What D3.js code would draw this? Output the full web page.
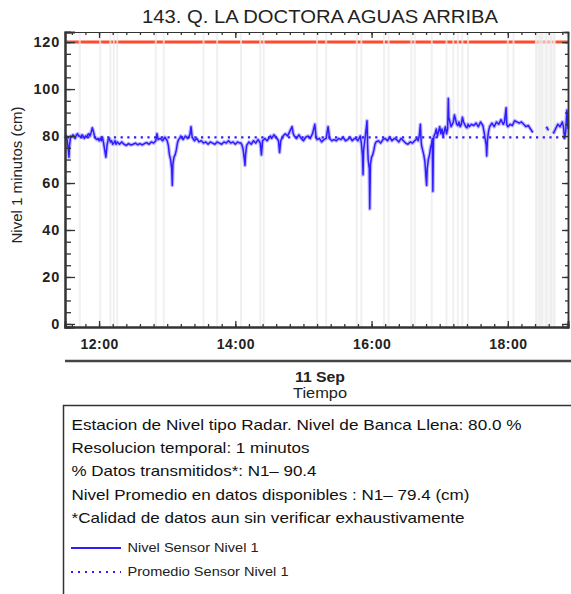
<!DOCTYPE html>
<html>
<head>
<meta charset="utf-8">
<script src="https://cdn.jsdelivr.net/npm/d3@7"></script>
<style>
  html, body { margin: 0; padding: 0; background: #fff; }
  svg { display: block; font-family: "Liberation Sans", Arial, Helvetica, sans-serif; }
</style>
</head>
<body>
<svg id="chart" width="571" height="594"></svg>
<script>
// ---------- DATA ----------
const chartTitle = "143. Q. LA DOCTORA AGUAS ARRIBA";
const yLabel = "Nivel 1 minutos (cm)";
const dateLabel = "11 Sep";
const xLabel = "Tiempo";
const yTicks = [0, 20, 40, 60, 80, 100, 120];
const bankFullLevel = 120;      // red line
const meanLevel = 79.4;         // dotted average
// minutes after 11:30 on 11 Sep
const levelMinutes = [
  0,1,2,3,3.5,4,5,6,7,8,9,10,11,12,
  13,14,15,16,17,18,19,20,21,22,23,24,25,26,27,28,29,30,
  31,32,33,34,35,36,37,38,39,40,41,42,43,44,45,46,47,48,49,50,
  52,54,56,58,60,62,64,66,68,70,72,74,76,78,80,
  81,82,84,86,88,90,
  91,92,93,94,94.5,95,96,97,98,99,100,
  101,102,104,106,108,110,111,112,114,116,118,120,
  122,124,126,128,130,132,134,136,138,140,142,144,146,148,150,152,154,
  155,156,157,158,158.5,159,160,162,164,166,168,170,172,173,174,176,178,180,
  181,182,184,186,188,189,190,192,194,196,198,200,201,202,204,206,208,210,212,214,216,218,220,221,
  222,224,226,228,230,231.7,233,235,237,239,241,243,245,247,249,251,253,255,
  256,258,260,261,262,262.5,263,264,265,266,266.5,267,268,268.4,269,270,271,272,273,274,276,278,280,
  282,284,286,288,290,292,294,296,298,300,302,304,306,308,310,
  311,312,313,313.5,314,315,316,317,318,318.5,319,320,321,322,323,323.5,324,324.5,325,
  326,327,328,329,330,331,332,333,334,335,336,337,
  337.6,338,339,340,341,342,343,344,345,346,347,348,349,350,351,352,353,354,355,356,358,
  360,362,364,366,368,369,370,371,371.4,372,373,374,376,378,380,382,384,386,387,388.5,389,
  390,392,394,396,398,400,402,404,406,408,410,412,413,
  424,425,426,427,430,432,434,436,438,439,440,441,442,443
];
const levelValues = [
  79,80,78,74,71,76,80,79.5,80.5,80,79,80.5,81,80,
  80,79.5,80.5,80,79,80,79.5,80.5,81,80,81.5,83.5,82,80,79,78.5,79,78,
  79,78,79.5,77,74,71,76,78.5,79,77.5,78,76.5,77,78,76.5,77.5,77,76.5,77,77.5,
  76.5,76,76.8,76.2,76.5,77,76.3,76.8,76.2,76.8,77.2,76.5,77.5,77,78,
  81,78.5,79,78,79.5,78,
  76,72,70,66,59,68,71,72,74,77,78.5,
  79,80,78.5,80,79,80.5,84,79.5,78,79,77.5,78,
  77,77.5,76.5,77.5,77,76.5,77.5,77,76.5,77.5,77,78,77,77.5,76.5,77.5,77,
  77,76,74,70,67.5,72,76,77.5,76.5,78,77,78.5,77,72,78,79,78,79.5,
  80,79,80.5,79.5,78,73,78,80,81,80,82,84,81,80,79,80.5,79,78,79.5,80,79,81,85,80,
  78.5,79,77.5,78.5,79,84,79,78,78.5,78,79,78.5,79.5,78,78.5,79.5,78,79,
  79,78,80,77,72,63.5,74,78,82,86.5,76,70,66,49,68,71,72,74,76.5,77.5,78,77,78.5,
  79,78,79.5,78,79,78.5,77.5,79,78,77,76.5,77.5,77,78,79,
  78,80,85,79,76,74,72,69,62,59,66,70,72,75,77,79,56.5,78,80,
  81,83,80,82,84,81,83,80,82,84,81,83,
  96,88,86,84,85,86,89,87,85,84.5,86,84,85,88,86,85,84,83.5,85,84,85,
  84.5,85.5,84,86,84.5,82,79,76,71.5,78,82,84,85.5,84,86,85,87,85,86,92,85,
  84,85,84.5,86.5,86,85.5,86,85,84,84.5,83,81.5,null,
  84,83,82.5,null,81,83,85,84,86,84,79,82,91,83
];
// minutes after 11:30 with missing transmissions (grey bands)
const gapMinutes = [13,31,40,43,46,80,87,122,134,155,172,175,222,230,257,261,281,285,305,308,323,336,342,346,350,355,390,395,415,418,420,424,428,431];
const gapSpanMinutes = [414, 432];
const infoLines = [
  "Estacion de Nivel tipo Radar. Nivel de Banca Llena: 80.0 %",
  "Resolucion temporal: 1 minutos",
  "% Datos transmitidos*: N1\u2013 90.4",
  "Nivel Promedio en datos disponibles : N1\u2013 79.4 (cm)",
  "*Calidad de datos aun sin verificar exhaustivamente"
];
const legendLabels = ["Nivel Sensor Nivel 1", "Promedio Sensor Nivel 1"];

// ---------- SETUP ----------
const base = new Date(2023, 8, 11, 11, 30).getTime();
const toDate = m => new Date(base + m * 60000);
const series = levelMinutes.map((m, i) => ({ t: toDate(m), v: levelValues[i] }));

const svg = d3.select("#chart");
const L = 65, R = 568, T = 32, B = 327;
const x = d3.scaleTime().domain([toDate(0), toDate(443)]).range([L, R]);
const y = d3.scaleLinear().domain([-1.3, 124.3]).range([B, T]);

const blue = "#2f1cff";
const axisCol = "#333";
const infoWidths = [450, 238, 245, 398, 393];
const legendWidths = [131, 161];

// title
svg.append("text").attr("x", 320).attr("y", 23).attr("text-anchor", "middle")
  .attr("font-size", 18.5).attr("fill", "#222")
  .attr("textLength", 356).attr("lengthAdjust", "spacingAndGlyphs").text(chartTitle);

const plot = svg.append("g");

// red bank-full line
plot.append("line").attr("x1", L).attr("x2", R)
  .attr("y1", y(bankFullLevel)).attr("y2", y(bankFullLevel))
  .attr("stroke", "#ff4a2e").attr("stroke-width", 3);

// grey gap bands
plot.append("rect").attr("x", x(toDate(gapSpanMinutes[0]))).attr("y", T)
  .attr("width", x(toDate(gapSpanMinutes[1])) - x(toDate(gapSpanMinutes[0]))).attr("height", B - T)
  .attr("fill", "#f0f0f0").attr("opacity", 0.6);
plot.selectAll("line.gap").data(gapMinutes).join("line").attr("class", "gap")
  .attr("x1", d => x(toDate(d))).attr("x2", d => x(toDate(d)))
  .attr("y1", T).attr("y2", B)
  .attr("stroke", "#ececec").attr("stroke-width", 2).attr("opacity", 0.75);

// mean dotted line
plot.append("line").attr("x1", L + 2).attr("x2", R)
  .attr("y1", y(meanLevel)).attr("y2", y(meanLevel))
  .attr("stroke", blue).attr("stroke-width", 2.2).attr("stroke-dasharray", "2.2,4.5");

// level series
const line = d3.line().defined(d => d.v !== null).x(d => x(d.t)).y(d => y(d.v));
plot.append("path").datum(series).attr("d", line)
  .attr("fill", "none").attr("stroke", blue).attr("stroke-width", 3.8)
  .attr("stroke-opacity", 0.3).attr("stroke-linejoin", "round");
plot.append("path").datum(series).attr("d", line)
  .attr("fill", "none").attr("stroke", blue).attr("stroke-width", 1.5)
  .attr("stroke-linejoin", "round");

// ---------- AXES ----------
const fmt = d3.timeFormat("%H:%M");
const majorX = d3.timeHour.every(2);
const minorX = d3.timeMinute.every(12);

function styleAxis(g, w) {
  g.select(".domain").attr("stroke", axisCol).attr("stroke-width", w);
  g.selectAll(".tick line").attr("stroke", axisCol).attr("stroke-width", 1.3);
}
// bottom
svg.append("g").attr("transform", `translate(0,${B})`)
  .call(d3.axisBottom(x).ticks(minorX).tickSize(-3).tickFormat("")).call(g => styleAxis(g, 2));
svg.append("g").attr("transform", `translate(0,${B})`)
  .call(d3.axisBottom(x).ticks(majorX).tickSize(-6).tickPadding(9).tickFormat(fmt))
  .call(g => { styleAxis(g, 2); g.selectAll("text").attr("font-size", 14).attr("font-weight", "bold")
    .attr("letter-spacing", 0.5).attr("fill", "#222").attr("dy", "0.9em"); });
// top
svg.append("g").attr("transform", `translate(0,${T})`)
  .call(d3.axisTop(x).ticks(minorX).tickSize(-3).tickFormat("")).call(g => styleAxis(g, 1.2));
svg.append("g").attr("transform", `translate(0,${T})`)
  .call(d3.axisTop(x).ticks(majorX).tickSize(-6).tickFormat("")).call(g => styleAxis(g, 1.2));
// left
const minorY = d3.range(0, 125, 5);
svg.append("g").attr("transform", `translate(${L},0)`)
  .call(d3.axisLeft(y).tickValues(minorY).tickSize(-6).tickFormat("")).call(g => styleAxis(g, 2));
svg.append("g").attr("transform", `translate(${L},0)`)
  .call(d3.axisLeft(y).tickValues(yTicks).tickSize(-10).tickFormat(d3.format("d")))
  .call(g => { styleAxis(g, 2); g.selectAll("text").attr("font-size", 14.5).attr("font-weight", "bold")
    .attr("letter-spacing", 0.8).attr("fill", "#222").attr("x", -5); });
// right
svg.append("g").attr("transform", `translate(${R},0)`)
  .call(d3.axisRight(y).tickValues(minorY).tickSize(-3).tickFormat("")).call(g => styleAxis(g, 1.5));
svg.append("g").attr("transform", `translate(${R},0)`)
  .call(d3.axisRight(y).tickValues(yTicks).tickSize(-6).tickFormat("")).call(g => styleAxis(g, 1.5));

// y label
svg.append("text").attr("transform", "translate(22,175) rotate(-90)")
  .attr("text-anchor", "middle").attr("font-size", 14).attr("fill", "#222")
  .attr("textLength", 137).attr("lengthAdjust", "spacingAndGlyphs").text(yLabel);

// separator and date label
svg.append("line").attr("x1", L).attr("x2", 571).attr("y1", 361).attr("y2", 361)
  .attr("stroke", "#444").attr("stroke-width", 2.5);
svg.append("text").attr("x", 320).attr("y", 382).attr("text-anchor", "middle")
  .attr("font-size", 14).attr("font-weight", "bold").attr("fill", "#222")
  .attr("textLength", 50).attr("lengthAdjust", "spacingAndGlyphs").text(dateLabel);
svg.append("text").attr("x", 320).attr("y", 398).attr("text-anchor", "middle")
  .attr("font-size", 14).attr("fill", "#222")
  .attr("textLength", 54).attr("lengthAdjust", "spacingAndGlyphs").text(xLabel);

// ---------- INFO BOX ----------
svg.append("path").attr("d", "M63.5,594 V405.5 H571").attr("fill", "none")
  .attr("stroke", "#333").attr("stroke-width", 1.5);
svg.selectAll("text.info").data(infoLines).join("text").attr("class", "info")
  .attr("x", 71.5).attr("y", (d, i) => 430 + i * 23.2)
  .attr("font-size", 14.5).attr("fill", "#111")
  .attr("textLength", (d, i) => infoWidths[i]).attr("lengthAdjust", "spacingAndGlyphs")
  .text(d => d);
// legend
const legY = [548, 572];
svg.append("line").attr("x1", 71).attr("x2", 121).attr("y1", legY[0]).attr("y2", legY[0])
  .attr("stroke", blue).attr("stroke-width", 2);
svg.append("line").attr("x1", 71).attr("x2", 121).attr("y1", legY[1]).attr("y2", legY[1])
  .attr("stroke", blue).attr("stroke-width", 2).attr("stroke-dasharray", "2,5");
svg.selectAll("text.leg").data(legendLabels).join("text").attr("class", "leg")
  .attr("x", 127.5).attr("y", (d, i) => legY[i] + 4)
  .attr("font-size", 12).attr("fill", "#222")
  .attr("textLength", (d, i) => legendWidths[i]).attr("lengthAdjust", "spacingAndGlyphs")
  .text(d => d);
</script>
</body>
</html>
